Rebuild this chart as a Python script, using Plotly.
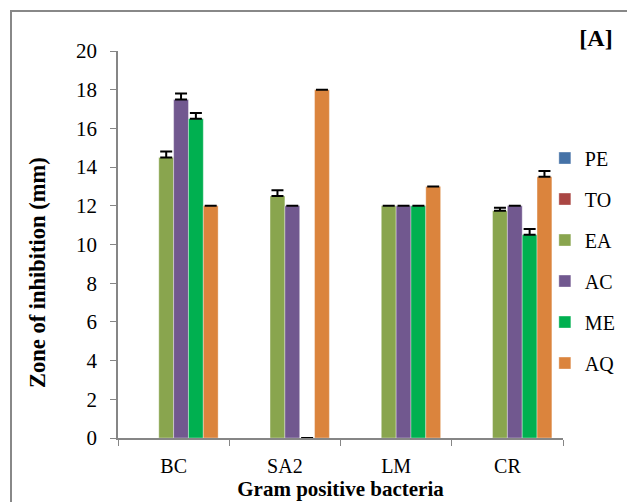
import plotly.graph_objects as go

# Zone of inhibition (mm) for each extract against Gram positive bacteria
bacteria = ["BC", "SA2", "LM", "CR"]
extracts = ["PE", "TO", "EA", "AC", "ME", "AQ"]

pe = [0, 0, 0, 0]
to = [0, 0, 0, 0]
ea = [14.5, 12.5, 12, 11.75]
ac = [17.5, 12, 12, 12]
me = [16.5, 0, 12, 10.5]
aq = [12, 18, 13, 13.5]

# upper standard-error whiskers
pe_err = None
to_err = None
ea_err = [0.3, 0.3, 0, 0.15]
ac_err = [0.3, 0, 0, 0]
me_err = [0.3, 0, 0, 0.3]
aq_err = [0, 0, 0, 0.3]

colors = ["#4572A7", "#AA4643", "#89A54E", "#71588F", "#00B050", "#DB843D"]

series = [pe, to, ea, ac, me, aq]
errors = [pe_err, to_err, ea_err, ac_err, me_err, aq_err]

SERIF = "Liberation Serif, DejaVu Serif, serif"

fig = go.Figure()
for name, vals, err, col in zip(extracts, series, errors, colors):
    kw = {}
    if err is not None:
        kw["error_y"] = dict(type="data", array=err, symmetric=False,
                             arrayminus=[0] * len(err), visible=True,
                             color="black", thickness=2, width=6)
    fig.add_trace(go.Bar(
        x=bacteria, y=vals, name=name, legendgroup=name,
        marker=dict(color=col, line=dict(color="rgba(255,255,255,0.6)", width=0.6)),
        **kw,
    ))

fig.update_layout(
    template="none",
    width=627, height=502,
    margin=dict(l=118, r=64, t=51, b=64, autoexpand=False),
    paper_bgcolor="white", plot_bgcolor="white",
    barmode="group", bargap=0.2, bargroupgap=0,
    font=dict(family=SERIF, size=21, color="black"),
    title=dict(text="<b>[A]</b>", xref="container", yref="container",
               x=596 / 627, y=1 - 38 / 502, xanchor="center", yanchor="middle",
               font=dict(family=SERIF, size=24, color="black")),
    legend=dict(xref="container", yref="container",
                x=0.869, y=0.724, xanchor="left", yanchor="top",
                font=dict(family=SERIF, size=20, color="black"),
                tracegroupgap=12, itemwidth=30, bgcolor="rgba(0,0,0,0)"),
    showlegend=True,
)

fig.update_xaxes(
    automargin=False,
    showline=True, linecolor="#868686", linewidth=1.5,
    ticks="outside", tickson="boundaries", ticklen=6, tickcolor="#868686",
    tickfont=dict(family=SERIF, size=20), ticklabelstandoff=9,
    title=dict(text="<b>Gram positive bacteria</b>", font=dict(family=SERIF, size=21), standoff=4),
    showgrid=False, zeroline=False,
)
fig.update_yaxes(
    automargin=False,
    range=[0, 20], dtick=2, showline=True, linecolor="#868686", linewidth=1.5,
    ticks="outside", ticklen=6, tickcolor="#868686",
    tickfont=dict(family=SERIF, size=21), ticklabelstandoff=9,
    showgrid=False, zeroline=False,
)

# y-axis title, sitting slightly below the axis centre
fig.add_annotation(text="<b>Zone of inhibition (mm)</b>", textangle=-90,
                   xref="paper", yref="paper",
                   x=(37 - 118) / 445, y=(438 - 273) / 387,
                   xanchor="center", yanchor="middle", showarrow=False,
                   font=dict(family=SERIF, size=22.5, color="black"))

# Outer frame around the chart area
fig.add_shape(type="rect", xref="paper", yref="paper",
              x0=-107 / 445, y0=-0.3, x1=1.3, y1=1 + 40 / 387,
              line=dict(color="#888888", width=2), fillcolor="rgba(0,0,0,0)", layer="below")

fig.write_html("out.html")
